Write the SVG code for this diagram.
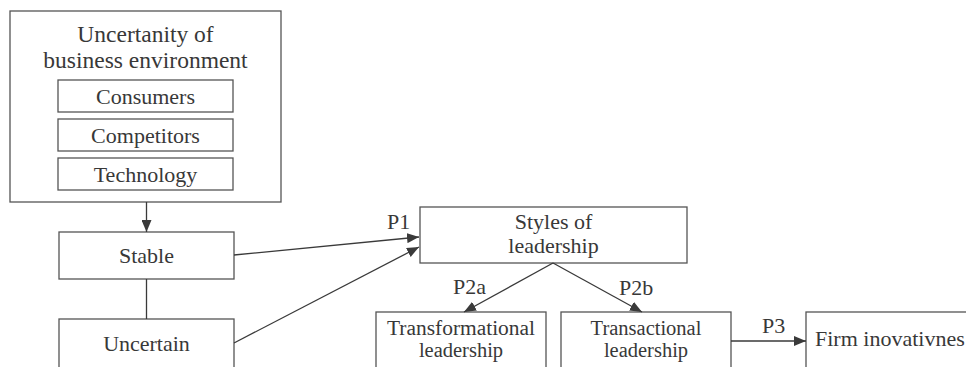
<svg xmlns="http://www.w3.org/2000/svg" width="966" height="367" viewBox="0 0 966 367">
<defs>
<marker id="arr" markerUnits="userSpaceOnUse" markerWidth="12" markerHeight="10" refX="12" refY="5" orient="auto">
<path d="M0,0 L12,5 L0,10 Z" fill="#3a3a3a"/>
</marker>
<style>
rect{fill:#fff;stroke:#555;stroke-width:1.3}
text{font-family:"Liberation Serif","Times New Roman",serif;font-size:22px;fill:#383838;text-anchor:middle}
.l{text-anchor:start}
.s{font-size:20.5px}
.c{fill:none;stroke:#3a3a3a;stroke-width:1.3}
</style>
</defs>
<rect x="0" y="0" width="966" height="367" style="stroke:none"/>
<g id="env">
<rect x="10" y="11" width="271" height="191"/>
<text x="145.5" y="42" style="font-size:23.5px">Uncertanity of</text>
<text x="145.5" y="67.5" style="font-size:23.5px">business environment</text>
</g>
<g id="consumers"><rect x="58" y="80" width="175" height="32"/><text x="145.5" y="104">Consumers</text></g>
<g id="competitors"><rect x="58" y="119" width="175" height="32"/><text x="145.5" y="143">Competitors</text></g>
<g id="technology"><rect x="58" y="158" width="175" height="32"/><text x="145.5" y="182">Technology</text></g>
<g id="stable"><rect x="59" y="232" width="175" height="47"/><text x="146.5" y="263">Stable</text></g>
<g id="uncertain"><rect x="59" y="319" width="175" height="60"/><text x="146.5" y="351">Uncertain</text></g>
<g id="styles"><rect x="420" y="207" width="267" height="56"/><text x="553.5" y="229">Styles of</text><text x="553.5" y="253">leadership</text></g>
<g id="transformational"><rect x="376" y="312" width="170" height="70"/><text class="s" x="461" y="335" textLength="148" lengthAdjust="spacingAndGlyphs">Transformational</text><text class="s" x="461" y="357">leadership</text></g>
<g id="transactional"><rect x="561" y="312" width="170" height="70"/><text class="s" x="646" y="335">Transactional</text><text class="s" x="646" y="357">leadership</text></g>
<g id="firm"><rect x="806" y="312" width="200" height="70"/><text class="l" x="815" y="346">Firm inovativnes</text></g>
<g id="connectors">
<line class="c" x1="146.5" y1="202" x2="146.5" y2="232" marker-end="url(#arr)"/>
<line class="c" x1="146.5" y1="279" x2="146.5" y2="319"/>
<line class="c" x1="234" y1="255" x2="419" y2="237" marker-end="url(#arr)"/>
<line class="c" x1="234" y1="343" x2="419" y2="247" marker-end="url(#arr)"/>
<line class="c" x1="553" y1="263" x2="464" y2="312" marker-end="url(#arr)"/>
<line class="c" x1="553" y1="263" x2="642" y2="312" marker-end="url(#arr)"/>
<line class="c" x1="731" y1="341" x2="806" y2="341" marker-end="url(#arr)"/>
<text class="l" x="387" y="229">P1</text>
<text class="l" x="453" y="294">P2a</text>
<text class="l" x="619" y="295">P2b</text>
<text class="l" x="762" y="333">P3</text>
</g>
</svg>
